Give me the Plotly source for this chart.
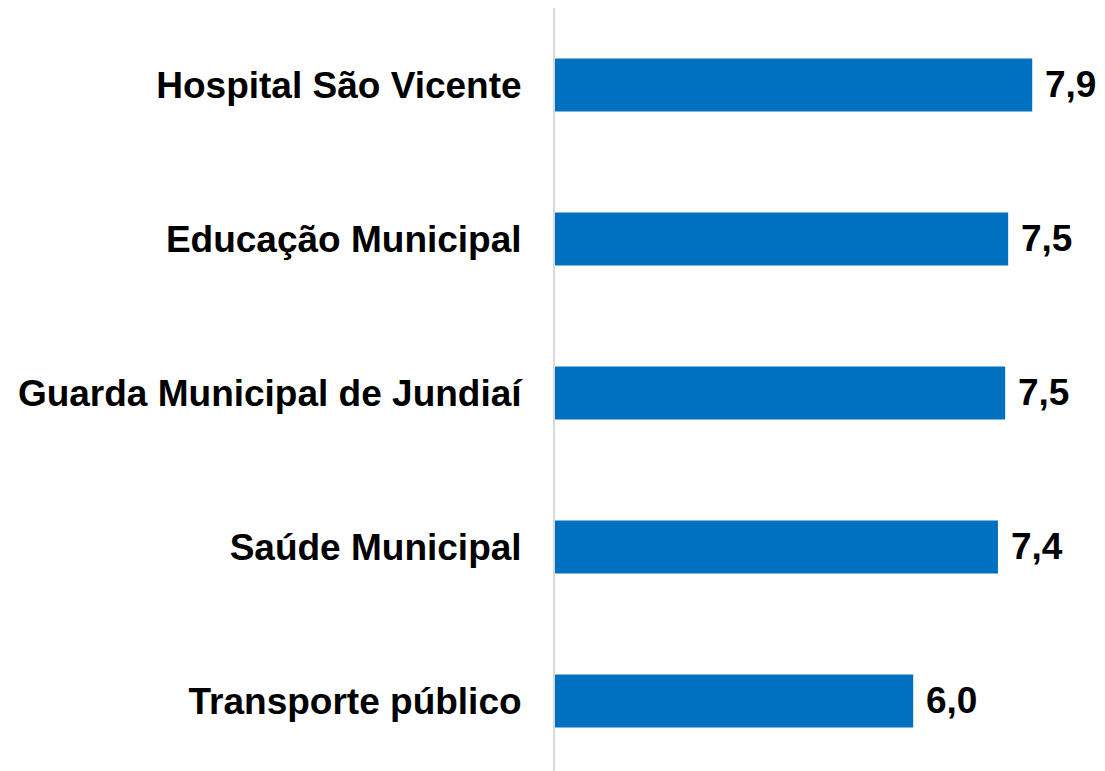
import plotly.graph_objects as go

categories = ["Hospital São Vicente", "Educação Municipal", "Guarda Municipal de Jundiaí",
              "Saúde Municipal", "Transporte público"]
values = [7.94, 7.54, 7.49, 7.37, 5.96]

FONT = "Liberation Sans, Arial, sans-serif"

fig = go.Figure()
fig.add_trace(go.Bar(
    y=categories, x=values, orientation="h",
    marker=dict(color="#0070C0", line=dict(width=0)),
    hoverinfo="skip",
))

for c, v in zip(categories, values):
    fig.add_annotation(
        x=v, y=c, xref="x", yref="y", text=f"<b>{v:.1f}</b>".replace(".", ","),
        showarrow=False, xanchor="left", yanchor="middle", xshift=11,
        font=dict(family=FONT, size=37, color="#000000"),
    )

fig.update_layout(
    width=1105, height=771,
    margin=dict(l=547, r=8, t=0, b=8),
    paper_bgcolor="white", plot_bgcolor="white",
    bargap=0.656,
    showlegend=False,
    xaxis=dict(range=[0, 9.151], showgrid=False, zeroline=False, showticklabels=False,
               showline=False, ticks=""),
    yaxis=dict(type="category", categoryorder="array", categoryarray=categories,
               range=[4.455, -0.5], showgrid=False, zeroline=False,
               showline=True, linecolor="#D9D9D9", linewidth=2, ticks="",
               ticklabelstandoff=24,
               tickfont=dict(family=FONT, size=37, color="#000000", weight="bold")),
)

fig.write_html("out.html")
